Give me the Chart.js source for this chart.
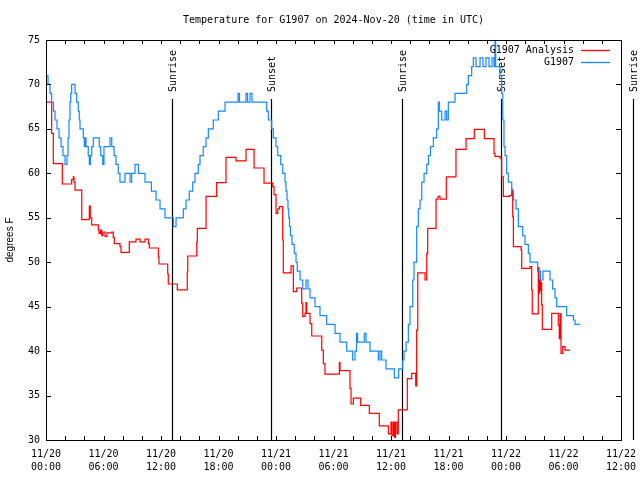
<!DOCTYPE html>
<html>
<head>
<meta charset="utf-8">
<style>
html,body{margin:0;padding:0;background:#fff;}
#wrap{width:640px;height:480px;}
</style>
</head>
<body>
<div id="wrap"><canvas id="c" width="640" height="480"></canvas></div>
<script src="https://cdn.jsdelivr.net/npm/chart.js@4"></script>
<script>
const chartTitle = 'Temperature for G1907 on 2024-Nov-20 (time in UTC)';
const yAxisTitle = 'degrees F';
const seriesNames = ['G1907 Analysis', 'G1907'];
const seriesColors = ['#ff0000', '#1589ff'];

const xTickLabels = [
  ['11/20','00:00'],['11/20','06:00'],['11/20','12:00'],['11/20','18:00'],
  ['11/21','00:00'],['11/21','06:00'],['11/21','12:00'],['11/21','18:00'],
  ['11/22','00:00'],['11/22','06:00'],['11/22','12:00']
];

// hours since 11/20 00:00 UTC
const eventNames = ['Sunrise','Sunset','Sunrise','Sunset','Sunrise'];
const eventHours = [13.18, 23.50, 37.18, 47.51, 61.20];

// G1907 Analysis (change points, hours / degF)
const analysisHours = [
  0.00,0.59,0.76,1.70,2.68,2.85,2.92,3.03,3.73,4.52,
  4.62,4.77,5.46,5.53,5.69,5.81,5.95,6.16,6.37,6.86,
  7.02,7.13,7.72,7.83,8.69,9.39,9.81,10.33,10.68,10.78,
  11.72,11.79,12.70,12.76,13.70,14.74,14.79,15.73,15.79,16.70,
  17.81,18.78,19.83,20.87,21.71,22.75,23.66,23.79,24.00,24.18,
  24.36,24.70,24.76,25.57,25.81,26.16,26.68,26.79,27.03,27.13,
  27.20,27.55,27.73,28.77,28.94,29.11,30.61,30.68,31.72,31.83,
  32.07,32.84,33.74,34.78,35.72,36.00,36.11,36.26,36.37,36.47,
  36.63,36.76,37.70,38.16,38.58,38.68,38.79,39.55,39.73,39.83,
  40.70,40.91,41.11,41.77,42.78,43.83,44.69,45.74,46.75,46.85,
  47.38,47.55,47.72,48.35,48.60,48.70,48.77,49.57,49.64,50.51,
  50.68,50.74,51.37,51.44,51.51,51.60,51.65,51.72,51.79,52.77,
  53.46,53.56,53.64,53.74,53.92,54.16,54.68
];
const analysisTemps = [
  68,64.5,61.1,58.8,59.3,59.6,59.0,58.1,54.8,56.3,
  55.0,54.2,53.6,53.25,53.6,53.0,53.4,52.9,53.3,53.4,
  52.8,52.1,51.75,51.1,52.3,52.6,52.3,52.6,52.1,51.6,
  50.6,49.8,48.7,47.55,46.9,48.9,50.7,52.3,53.8,57.4,
  58.95,61.8,61.4,62.7,60.6,58.9,58.5,57.6,55.5,56.0,
  56.25,52.5,48.8,49.6,46.7,47.1,45.4,43.9,44.25,45.45,
  44.25,43.1,41.7,40.1,38.6,37.4,38.7,37.8,35.8,34.05,
  34.7,33.9,33.0,31.6,30.7,32,30.5,32,30.3,32,
  30.7,33.4,36.9,37.5,36.1,42.4,48.8,48,51,53.8,
  57.1,57.4,57.1,59.6,62.7,63.9,64.95,63.9,62.25,61.9,
  61.7,59.6,57.4,57.5,58.2,55.1,51.75,51.4,49.3,49.5,
  46.9,44.2,49.4,46.5,48,46.8,47.7,45.2,42.45,44.25,
  42.9,41.4,44.2,39.75,40.5,40.1,40.1
];

// G1907 observations (change points, hours / degF)
const obsHours = [
  0.00,0.21,0.42,0.59,0.78,0.94,1.15,1.36,1.57,1.77,
  1.98,2.19,2.30,2.40,2.50,2.58,2.68,3.03,3.20,3.37,
  3.47,3.55,3.89,4.00,4.07,4.17,4.41,4.52,4.64,4.77,
  4.94,5.56,5.71,5.92,6.05,6.68,6.86,7.10,7.30,7.54,
  7.72,8.24,8.77,8.94,9.29,9.64,10.33,11.00,11.48,11.90,
  12.42,13.29,13.57,14.33,14.61,14.95,15.31,15.55,15.89,16.07,
  16.41,16.70,16.94,17.46,17.98,18.68,20.04,20.19,20.87,21.03,
  21.29,21.50,23.03,23.20,23.55,23.72,24.00,24.18,24.49,24.70,
  24.94,25.04,25.15,25.25,25.33,25.41,25.51,25.67,25.91,26.09,
  26.22,26.51,26.79,27.13,27.34,27.55,28.07,28.59,29.29,30.16,
  30.68,31.38,32.00,32.24,32.40,32.51,33.21,33.39,33.81,34.68,
  34.85,35.03,35.48,36.35,36.80,37.22,37.36,37.57,37.81,37.98,
  38.27,38.40,38.68,38.85,39.03,39.21,39.45,39.73,39.91,40.12,
  40.42,40.77,40.94,41.04,41.29,41.64,41.81,41.98,42.68,43.90,
  44.07,44.42,44.59,44.87,45.29,45.60,45.91,46.23,46.54,46.75,
  46.85,46.92,47.38,47.55,47.66,47.79,47.90,48.07,48.24,48.60,
  48.77,49.05,49.29,49.74,49.98,50.33,50.51,51.30,51.60,51.86,
  52.59,52.87,53.11,53.29,54.33,55.03,55.20,55.72
];
const obsTemps = [
  71,70,69,68,67,66,65,64,63,62,
  61,62,64,66,68,69,70,69,68,67,
  66,65,64,63,64,63,62,61,62,63,
  64,63,62,61,63,64,63,62,61,60,
  59,60,59,60,61,60,59,58,57,56,
  55,54,55,56,57,58,59,60,61,62,
  63,64,65,66,67,68,69,68,69,68,
  69,68,67,66,65,64,63,62,61,60,
  59,58,57,56,55,54,53,52,51,50,
  49,48,47,48,47,46,45,44,43,42,
  41,40,39,40,42,41,42,41,40,39,
  40,39,38,37,38,39,40,41,43,45,
  48,50,54,56,57,59,60,61,62,63,
  64,65,68,67,66,67,66,68,69,70,
  71,72,73,72,73,72,73,72,73,72,
  75,72,71,69,66,63,62,60,59,58,
  57,56,54,53,52,51,50,49,48,49,
  48,47,46,45,44,43.5,43,43
];

function toPoints(xs, ys) {
  const n = Math.min(xs.length, ys.length);
  const out = [];
  for (let i = 0; i < n; i++) out.push({x: xs[i], y: ys[i]});
  return out;
}

const MONO = "'DejaVu Sans Mono', monospace";

const decor = {
  id: 'decor',
  beforeDatasetsDraw(chart) {
    const {ctx, chartArea: a, scales: {x}} = chart;
    ctx.save();
    ctx.strokeStyle = '#000';
    ctx.lineWidth = 1.2;
    ctx.fillStyle = '#000';
    ctx.font = '10px ' + MONO;
    const lineTop = a.top + Math.round(0.1475 * (a.bottom - a.top));
    eventHours.forEach((h, i) => {
      const px = Math.round(x.getPixelForValue(h)) + 0.5;
      ctx.beginPath();
      ctx.moveTo(px, lineTop);
      ctx.lineTo(px, a.bottom);
      ctx.stroke();
      ctx.save();
      ctx.translate(px + 1, lineTop - 7);
      ctx.rotate(-Math.PI / 2);
      ctx.textAlign = 'left';
      ctx.textBaseline = 'middle';
      ctx.fillText(eventNames[i], 0, 0);
      ctx.restore();
    });
    ctx.restore();
  },
  afterDatasetsDraw(chart) {
    const {ctx, chartArea: a, scales: {x, y}} = chart;
    ctx.save();
    ctx.strokeStyle = '#000';
    ctx.lineWidth = 1;
    // border
    ctx.strokeRect(Math.round(a.left) + 0.5, Math.round(a.top) + 0.5,
                   Math.round(a.right - a.left), Math.round(a.bottom - a.top));
    // inward ticks
    ctx.beginPath();
    x.ticks.forEach(t => {
      const px = Math.round(x.getPixelForValue(t.value)) + 0.5;
      ctx.moveTo(px, a.bottom); ctx.lineTo(px, a.bottom - 4);
      ctx.moveTo(px, a.top); ctx.lineTo(px, a.top + 4);
    });
    y.ticks.forEach(t => {
      const py = Math.round(y.getPixelForValue(t.value)) + 0.5;
      ctx.moveTo(a.left, py); ctx.lineTo(a.left + 5, py);
      ctx.moveTo(a.right, py); ctx.lineTo(a.right - 5, py);
    });
    ctx.stroke();
    // legend
    ctx.font = '10px ' + MONO;
    ctx.textAlign = 'right';
    ctx.textBaseline = 'middle';
    ctx.fillStyle = '#000';
    seriesNames.forEach((name, i) => {
      const ly = a.top + 10 + i * 12;
      ctx.fillText(name, a.right - 47, ly);
      ctx.strokeStyle = seriesColors[i];
      ctx.lineWidth = 1.3;
      ctx.beginPath();
      ctx.moveTo(a.right - 40, Math.round(ly) + 0.5);
      ctx.lineTo(a.right - 11, Math.round(ly) + 0.5);
      ctx.stroke();
    });
    ctx.restore();
  }
};

new Chart(document.getElementById('c'), {
  type: 'line',
  data: {
    datasets: [
      {
        label: seriesNames[0],
        data: toPoints(analysisHours, analysisTemps),
        borderColor: seriesColors[0],
        borderWidth: 1.2,
        pointRadius: 0,
        stepped: true,
        fill: false,
        order: 1
      },
      {
        label: seriesNames[1],
        data: toPoints(obsHours, obsTemps),
        borderColor: seriesColors[1],
        borderWidth: 1.2,
        pointRadius: 0,
        stepped: true,
        fill: false,
        order: 0
      }
    ]
  },
  options: {
    responsive: false,
    devicePixelRatio: 1,
    animation: false,
    events: [],
    layout: {padding: {top: 0, right: 19, bottom: 0, left: 0}},
    plugins: {
      legend: {display: false},
      tooltip: {enabled: false},
      title: {
        display: true,
        text: chartTitle,
        fullSize: false,
        color: '#000',
        font: {family: MONO, size: 10, weight: 'normal', lineHeight: 1.2},
        padding: {top: 14, bottom: 14}
      }
    },
    scales: {
      x: {
        type: 'linear',
        position: 'bottom',
        min: 0,
        max: 60,
        grid: {display: false, drawTicks: false},
        border: {display: false},
        ticks: {
          stepSize: 2,
          autoSkip: false,
          maxRotation: 0,
          minRotation: 0,
          padding: 8,
          color: '#000',
          font: {family: MONO, size: 10, lineHeight: 1.3},
          callback: (v) => {
            const r = Math.round(v);
            return r % 6 === 0 ? xTickLabels[r / 6] : '';
          }
        },
        afterFit: (s) => { s.height = 40; s.paddingRight = 0; s.paddingLeft = 0; }
      },
      y: {
        type: 'linear',
        position: 'left',
        min: 30,
        max: 75,
        grid: {display: false, drawTicks: false},
        border: {display: false},
        ticks: {
          stepSize: 5,
          padding: 6,
          color: '#000',
          font: {family: MONO, size: 10}
        },
        title: {
          display: true,
          text: yAxisTitle,
          color: '#000',
          font: {family: "'Liberation Sans', sans-serif", size: 10},
          padding: {top: 4, bottom: 0}
        },
        afterFit: (s) => { s.width = 46; }
      }
    }
  },
  plugins: [decor]
});
</script>
</body>
</html>
